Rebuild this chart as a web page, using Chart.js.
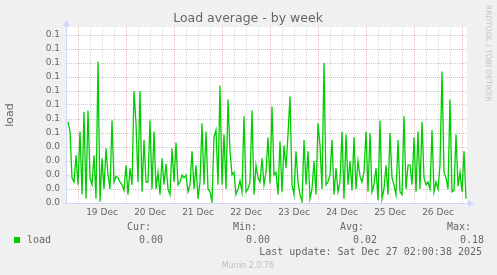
<!DOCTYPE html>
<html>
<head>
<meta charset="utf-8">
<script src="https://cdn.jsdelivr.net/npm/chart.js@4.4.1/dist/chart.umd.min.js"></script>
<style>
  html, body { margin: 0; padding: 0; background: #f0f0f0; }
  canvas { display: block; }
</style>
</head>
<body>
<canvas id="loadChart" width="497" height="275"></canvas>
<script>
const chartTitle = 'Load average - by week';
const seriesName = 'load';
const axisTitle = 'load';
// one sample per hour, first one 5h before 19 Dec 00:00
const startHour = -5;
const loadValues = [
  0.058, 0.051, 0.018, 0.015, 0.034, 0.013, 0.051, 0.006, 0.065, 0.003,
  0.066, 0.018, 0.013, 0.034, 0.003, 0.101, 0.001, 0.032, 0.010, 0.039,
  0.020, 0.010, 0.059, 0.015, 0.019, 0.018, 0.015, 0.013, 0.009, 0.027,
  0.006, 0.025, 0.013, 0.080, 0.057, 0.015, 0.080, 0.008, 0.045, 0.015,
  0.015, 0.059, 0.010, 0.051, 0.010, 0.022, 0.006, 0.032, 0.013, 0.028,
  0.010, 0.006, 0.039, 0.015, 0.043, 0.013, 0.015, 0.020, 0.018, 0.020,
  0.008, 0.013, 0.037, 0.010, 0.027, 0.003, 0.015, 0.057, 0.013, 0.051,
  0.010, 0.008, 0.001, 0.047, 0.052, 0.013, 0.084, 0.013, 0.049, 0.010,
  0.074, 0.037, 0.020, 0.022, 0.006, 0.010, 0.016, 0.008, 0.062, 0.008,
  0.010, 0.015, 0.066, 0.006, 0.027, 0.018, 0.015, 0.032, 0.013, 0.022,
  0.047, 0.014, 0.069, 0.020, 0.022, 0.006, 0.044, 0.008, 0.041, 0.025,
  0.049, 0.076, 0.013, 0.006, 0.037, 0.015, 0.006, 0.001, 0.045, 0.013,
  0.037, 0.003, 0.010, 0.030, 0.006, 0.057, 0.041, 0.010, 0.100, 0.013,
  0.015, 0.020, 0.045, 0.006, 0.025, 0.008, 0.015, 0.051, 0.003, 0.049,
  0.013, 0.030, 0.009, 0.047, 0.010, 0.030, 0.019, 0.015, 0.022, 0.051,
  0.008, 0.050, 0.008, 0.013, 0.025, 0.002, 0.059, 0.003, 0.010, 0.027,
  0.006, 0.050, 0.018, 0.013, 0.006, 0.045, 0.008, 0.006, 0.062, 0.010,
  0.027, 0.027, 0.013, 0.047, 0.008, 0.051, 0.010, 0.058, 0.018, 0.013,
  0.015, 0.010, 0.052, 0.008, 0.015, 0.010, 0.027, 0.094, 0.022, 0.018,
  0.010, 0.074, 0.008, 0.009, 0.049, 0.012, 0.022, 0.008, 0.037, 0.003
];
const dayLabels = ['19 Dec', '20 Dec', '21 Dec', '22 Dec', '23 Dec', '24 Dec', '25 Dec', '26 Dec'];
const yTickLabels = ['0.0', '0.0', '0.0', '0.0', '0.0', '0.1', '0.1', '0.1', '0.1', '0.1', '0.1', '0.1', '0.1'];
const statHeaders = ['Cur:', 'Min:', 'Avg:', 'Max:'];
const statValues = ['0.00', '0.00', '0.02', '0.18'];
const lastUpdate = 'Last update: Sat Dec 27 02:00:38 2025';
const footerText = 'Munin 2.0.76';
const sideText = 'RRDTOOL / TOBI OETIKER';

const majorGrid = '#ebbcbc';
const minorGrid = '#dcdcdc';
const axisColor = '#cfd6f8';
const fontColor = '#666666';

const points = loadValues.map((v, i) => ({ x: startHour + i, y: v }));

const munin = {
  id: 'munin',
  beforeDraw(chart) {
    const { ctx, chartArea: a } = chart;
    ctx.save();
    ctx.fillStyle = '#f0f0f0';
    ctx.fillRect(0, 0, chart.width, chart.height);
    ctx.fillStyle = '#ffffff';
    ctx.fillRect(a.left, a.top, a.right - a.left, a.bottom - a.top);
    ctx.restore();
  },
  afterDraw(chart) {
    const { ctx, chartArea: a } = chart;
    ctx.save();
    // axes with arrows
    ctx.strokeStyle = axisColor;
    ctx.fillStyle = axisColor;
    ctx.lineWidth = 1;
    ctx.beginPath();
    ctx.moveTo(a.left - 0.5, a.bottom + 0.5);
    ctx.lineTo(a.left - 0.5, a.top - 3);
    ctx.moveTo(a.left - 4, a.bottom + 0.5);
    ctx.lineTo(a.right + 3, a.bottom + 0.5);
    ctx.stroke();
    ctx.beginPath();
    ctx.moveTo(a.left - 0.5, a.top - 7);
    ctx.lineTo(a.left - 4, a.top - 1);
    ctx.lineTo(a.left + 3, a.top - 1);
    ctx.closePath();
    ctx.fill();
    ctx.beginPath();
    ctx.moveTo(a.right + 7, a.bottom + 0.5);
    ctx.lineTo(a.right + 1, a.bottom - 3);
    ctx.lineTo(a.right + 1, a.bottom + 4);
    ctx.closePath();
    ctx.fill();

    // title
    ctx.fillStyle = fontColor;
    ctx.textBaseline = 'middle';
    ctx.textAlign = 'center';
    ctx.font = '12.5px "DejaVu Sans"';
    ctx.fillText(chartTitle, 248, 19);

    // vertical axis title
    ctx.save();
    ctx.translate(10, 115);
    ctx.rotate(-Math.PI / 2);
    ctx.font = '11px "DejaVu Sans"';
    ctx.fillText(axisTitle, 0, 0);
    ctx.restore();

    // side watermark
    ctx.save();
    ctx.translate(488, 5);
    ctx.rotate(Math.PI / 2);
    ctx.textAlign = 'left';
    ctx.fillStyle = '#c4c4c4';
    ctx.font = '7.5px "DejaVu Sans"';
    ctx.fillText(sideText, 0, 0);
    ctx.restore();

    // legend
    ctx.fillStyle = '#00cc00';
    ctx.fillRect(14, 237, 6, 6);
    ctx.fillStyle = fontColor;
    ctx.textAlign = 'left';
    ctx.font = '10px "DejaVu Sans Mono"';
    ctx.fillText(seriesName, 27, 240);
    const headX = [127, 233, 340, 447];
    const valX = [139, 246, 353, 460];
    statHeaders.forEach((t, i) => ctx.fillText(t, headX[i], 227));
    statValues.forEach((t, i) => ctx.fillText(t, valX[i], 240));
    ctx.textAlign = 'right';
    ctx.fillText(lastUpdate, 482, 252);

    ctx.textAlign = 'center';
    ctx.fillStyle = '#bdbdbd';
    ctx.font = '8px "DejaVu Sans"';
    ctx.fillText(footerText, 248, 266);
    ctx.restore();
  }
};

new Chart(document.getElementById('loadChart').getContext('2d'), {
  type: 'line',
  data: {
    datasets: [{
      label: seriesName,
      data: points,
      borderColor: '#00cc00',
      borderWidth: 1.3,
      pointRadius: 0,
      tension: 0,
      fill: false
    }]
  },
  options: {
    responsive: false,
    animation: false,
    layout: { padding: { top: 27, right: 30, bottom: 0, left: 0 } },
    plugins: {
      legend: { display: false },
      tooltip: { enabled: false },
      title: { display: false }
    },
    scales: {
      x: {
        type: 'linear',
        min: -5.5,
        max: 194.5,
        afterBuildTicks: scale => {
          const ticks = [];
          for (let h = 0; h <= 192; h += 6) ticks.push({ value: h });
          scale.ticks = ticks;
        },
        afterFit: scale => { scale.height = 72; },
        ticks: {
          autoSkip: false,
          maxRotation: 0,
          padding: 4,
          color: fontColor,
          font: { family: 'DejaVu Sans', size: 9 },
          callback: v => (v % 24 === 12 ? dayLabels[(v - 12) / 24] : '')
        },
        grid: {
          drawTicks: false,
          lineWidth: 1,
          color: c => (c.tick && c.tick.value % 24 === 0 ? majorGrid : minorGrid)
        },
        border: { display: false, dash: [1, 1] }
      },
      y: {
        min: 0,
        max: 0.176 / 1.4,
        afterBuildTicks: scale => {
          const ticks = [];
          for (let i = 0; i <= 25; i++) ticks.push({ value: i * 0.005 });
          scale.ticks = ticks;
        },
        afterFit: scale => { scale.width = 67; },
        ticks: {
          padding: 7,
          color: fontColor,
          font: { family: 'DejaVu Sans', size: 9 },
          callback: (v, i) => (i % 2 === 0 ? yTickLabels[i / 2] : '')
        },
        grid: {
          drawTicks: false,
          lineWidth: 1,
          color: c => (c.index % 2 === 0 ? majorGrid : minorGrid)
        },
        border: { display: false, dash: [1, 1] }
      }
    }
  },
  plugins: [munin]
});
</script>
</body>
</html>
